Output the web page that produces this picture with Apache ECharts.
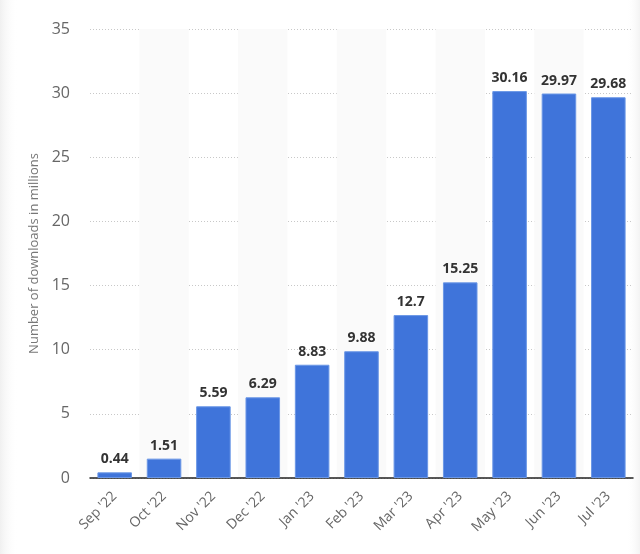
<!DOCTYPE html>
<html>
<head>
<meta charset="utf-8">
<script src="https://cdn.jsdelivr.net/npm/echarts@6/dist/echarts.min.js"></script>
<style>html,body{margin:0;padding:0;background:#fff;}#c{width:640px;height:554px;}</style>
</head>
<body>
<div id="c"></div>
<script>
const categories = ["Sep '22","Oct '22","Nov '22","Dec '22","Jan '23","Feb '23","Mar '23","Apr '23","May '23","Jun '23","Jul '23"];
const downloads = [0.44, 1.51, 5.59, 6.29, 8.83, 9.88, 12.7, 15.25, 30.16, 29.97, 29.68];
const yTicks = {min: 0, max: 35, interval: 5};
const yAxisName = 'Number of downloads in millions';

const chart = echarts.init(document.getElementById('c'), null, {renderer: 'canvas'});
chart.setOption({
  animation: false,
  backgroundColor: '#fff',
  graphic: [
    {type: 'rect', left: 0, top: 0, shape: {width: 18, height: 554}, silent: true,
     style: {fill: new echarts.graphic.LinearGradient(0, 0, 1, 0, [{offset: 0, color: '#f0f0f0'}, {offset: 1, color: 'rgba(255,255,255,0)'}])}},
    {type: 'rect', right: 0, top: 0, shape: {width: 14, height: 554}, silent: true,
     style: {fill: new echarts.graphic.LinearGradient(0, 0, 1, 0, [{offset: 0, color: 'rgba(255,255,255,0)'}, {offset: 1, color: '#f3f3f3'}])}}
  ],
  grid: {left: 90, right: 7, top: 29, bottom: 76, containLabel: false},
  xAxis: {
    type: 'category',
    data: categories,
    axisLine: {show: true, lineStyle: {color: '#222', width: 1.5}},
    axisTick: {show: false},
    splitArea: {show: true, areaStyle: {color: ['rgba(255,255,255,0)', '#fafafa']}},
    axisLabel: {rotate: 45, fontSize: 14, color: '#666', margin: 16, interval: 0, fontFamily: 'Open Sans, sans-serif'}
  },
  yAxis: {
    type: 'value',
    min: yTicks.min, max: yTicks.max, interval: yTicks.interval,
    name: yAxisName,
    nameLocation: 'middle',
    nameGap: 46,
    nameTextStyle: {fontSize: 13, color: '#777', fontFamily: 'Open Sans, sans-serif'},
    axisLine: {show: false},
    axisTick: {show: false},
    axisLabel: {fontSize: 16, color: '#666', margin: 20, fontFamily: 'Open Sans, sans-serif'},
    splitLine: {show: true, lineStyle: {color: '#c8c8c8', type: [1, 2], width: 1}}
  },
  series: [{
    type: 'bar',
    data: downloads,
    barWidth: '70%',
    itemStyle: {color: '#3f74da', borderColor: '#6b97e6', borderWidth: 1},
    label: {show: true, position: 'top', distance: 6, fontSize: 14, fontWeight: 'bold', color: '#333', fontFamily: 'Open Sans, sans-serif'},
    z: 3
  }]
});
</script>
</body>
</html>
